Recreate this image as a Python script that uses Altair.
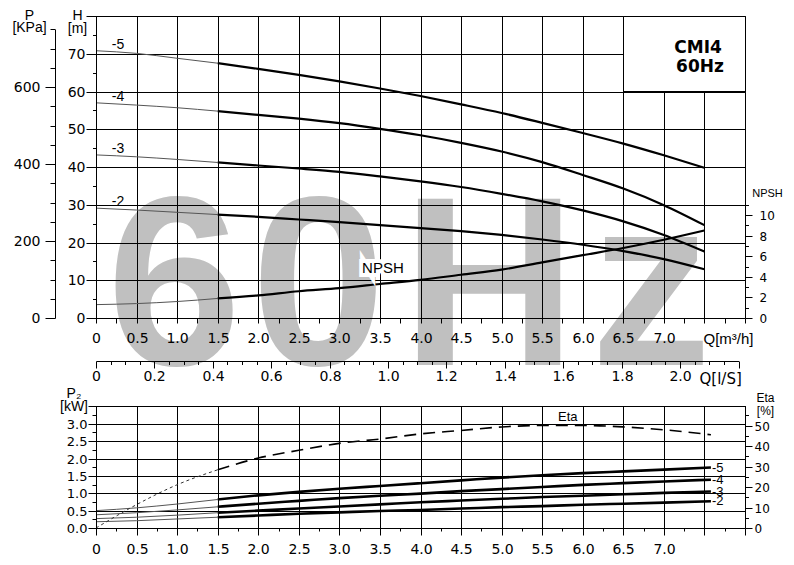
import altair as alt
import pandas as pd

# ---------------- data ----------------
STAGES = ["-5", "-4", "-3", "-2"]

# upper diagram: head H [m] and NPSH [m] against Q [m3/h]
Q_TOP = [0.0, 0.5, 1.0, 1.5, 2.0, 2.5, 3.0, 3.5, 4.0, 4.5, 5.0, 5.5, 6.0, 6.5, 7.0, 7.5]
H_5 = [70.8, 70.1, 68.8, 67.5, 66.0, 64.4, 62.7, 60.8, 58.8, 56.6, 54.3, 51.7, 49.0, 46.2, 43.1, 39.8]
H_4 = [57.0, 56.4, 55.7, 54.8, 53.8, 52.8, 51.6, 50.1, 48.4, 46.4, 44.1, 41.3, 37.9, 34.3, 29.9, 24.6]
H_3 = [43.2, 42.7, 42.0, 41.2, 40.4, 39.6, 38.7, 37.5, 36.2, 34.7, 32.9, 30.9, 28.5, 25.6, 22.0, 17.6]
H_2 = [29.1, 28.6, 28.0, 27.4, 26.8, 26.1, 25.4, 24.6, 23.8, 23.0, 22.0, 20.8, 19.4, 17.7, 15.6, 12.9]
NPSH = [1.3, 1.4, 1.6, 1.9, 2.2, 2.6, 2.9, 3.3, 3.7, 4.2, 4.7, 5.4, 6.1, 6.8, 7.6, 8.5]

# lower diagram: shaft power P2 [kW] and efficiency Eta [%]
Q_BOT = [0.0, 0.5, 1.0, 1.5, 2.0, 2.5, 3.0, 3.5, 4.0, 4.5, 5.0, 5.5, 6.0, 6.5, 7.0, 7.58]
P2_5 = [0.50, 0.58, 0.69, 0.82, 0.94, 1.04, 1.13, 1.21, 1.29, 1.37, 1.45, 1.52, 1.58, 1.63, 1.68, 1.74]
P2_4 = [0.38, 0.44, 0.52, 0.61, 0.70, 0.78, 0.86, 0.93, 0.99, 1.06, 1.12, 1.18, 1.24, 1.29, 1.34, 1.39]
P2_3 = [0.27, 0.31, 0.37, 0.44, 0.50, 0.56, 0.62, 0.68, 0.74, 0.79, 0.84, 0.89, 0.93, 0.97, 1.01, 1.05]
P2_2 = [0.18, 0.21, 0.26, 0.31, 0.36, 0.41, 0.45, 0.49, 0.52, 0.56, 0.60, 0.63, 0.67, 0.70, 0.73, 0.77]
ETA = [0.0, 11.4, 21.1, 28.4, 34.1, 37.9, 41.3, 43.4, 45.9, 47.6, 49.3, 50.0, 50.0, 49.3, 47.9, 45.5]
Q_BEP_START = 1.5  # curves drawn bold from here on

# tick values / labels
Q_MAJOR = [0.0, 0.5, 1.0, 1.5, 2.0, 2.5, 3.0, 3.5, 4.0, 4.5, 5.0, 5.5, 6.0, 6.5, 7.0, 7.5, 8.0]
Q_MINOR = [0.25, 0.75, 1.25, 1.75, 2.25, 2.75, 3.25, 3.75, 4.25, 4.75, 5.25, 5.75, 6.25, 6.75, 7.25, 7.75]
H_MAJOR = [0, 10, 20, 30, 40, 50, 60, 70, 80]
H_MINOR = [5, 15, 25, 35, 45, 55, 65, 75]
P_MAJOR = [0, 200, 400, 600]
P_MINOR = [50, 100, 150, 250, 300, 350, 450, 500, 550, 650, 700, 750]
NPSH_MAJOR = [0, 2, 4, 6, 8, 10]
NPSH_MINOR = [1, 3, 5, 7, 9, 11]
LS_MAJOR = [0.0, 0.2, 0.4, 0.6, 0.8, 1.0, 1.2, 1.4, 1.6, 1.8, 2.0, 2.2]
LS_MINOR = [0.05, 0.1, 0.15, 0.25, 0.3, 0.35, 0.45, 0.5, 0.55, 0.65, 0.7, 0.75, 0.85, 0.9, 0.95,
            1.05, 1.1, 1.15, 1.25, 1.3, 1.35, 1.45, 1.5, 1.55, 1.65, 1.7, 1.75, 1.85, 1.9, 1.95,
            2.05, 2.1, 2.15]
P2_MAJOR = [0.0, 0.5, 1.0, 1.5, 2.0, 2.5, 3.0, 3.5]
P2_MINOR = [0.25, 0.75, 1.25, 1.75, 2.25, 2.75, 3.25]
ETA_MAJOR = [0, 10, 20, 30, 40, 50]
ETA_MINOR = [5, 15, 25, 35, 45, 55]

MODEL = "CMI4"
FREQ = "60Hz"

# ---------------- layout (pixels inside the view) ----------------
W, HGT = 649, 512
TOP_Y0 = 302                      # y of H = 0
PX_M = TOP_Y0 / 80.0              # px per metre of head
KPA_PER_M = 9.80665
NPSH_PX = 30 * PX_M / 11          # NPSH 0..11 spans the height of H 0..30
LS_PX = 3.6 * W / 8.0             # px per l/s
BOT_Y0 = HGT                      # y of P2 = 0
P2_PX = 34.75                     # px per kW
ETA_PX = 2.05                     # px per %
LS_AXIS_Y = 345


def scales(rnd):
    sc = dict(nice=False, zero=False, round=rnd)
    return dict(
        x=alt.Scale(domain=[0, 8], range=[0, W], **sc),
        ls=alt.Scale(domain=[0, 2.2], range=[0, 2.2 * LS_PX], **sc),
        h=alt.Scale(domain=[0, 80], range=[TOP_Y0, 0], **sc),
        p=alt.Scale(domain=[0, 750], range=[TOP_Y0, TOP_Y0 - 750 * PX_M / KPA_PER_M], **sc),
        n=alt.Scale(domain=[0, 11], range=[TOP_Y0, TOP_Y0 - 11 * NPSH_PX], **sc),
        p2=alt.Scale(domain=[0, 3.5], range=[BOT_Y0, BOT_Y0 - 3.5 * P2_PX], **sc),
        e=alt.Scale(domain=[0, 58], range=[BOT_Y0, BOT_Y0 - 58 * ETA_PX], **sc),
    )

G = scales(True)    # grid, box, axes: crisp pixel positions
S = scales(False)   # curves and labels: smooth

# ---------------- tables ----------------
def long_table(qs, series, col):
    rows = []
    for name, vals in series.items():
        for q, v in zip(qs, vals):
            rows.append({"curve": name, "q": q, col: v})
    return pd.DataFrame(rows)

top_df = long_table(Q_TOP, dict(zip(STAGES, [H_5, H_4, H_3, H_2])), "h")
npsh_df = long_table(Q_TOP, {"NPSH": NPSH}, "n")
p2_df = long_table(Q_BOT, dict(zip(STAGES, [P2_5, P2_4, P2_3, P2_2])), "p")
eta_df = long_table(Q_BOT, {"Eta": ETA}, "e")

FONT = "Liberation Sans"
NUMFONT = "DejaVu Sans"

# ---------------- helpers ----------------
def X(field="q", scale=S["x"]):
    return alt.X(f"{field}:Q", scale=scale, axis=None)

def Y(field, scale):
    return alt.Y(f"{field}:Q", scale=scale, axis=None)

def curve_layers(df, col, yscale, thin_kw, thick_kw):
    thin = alt.Chart(df[df.q <= Q_BEP_START]).mark_line(interpolate="monotone", **thin_kw).encode(
        x=X(), y=Y(col, yscale), detail="curve:N")
    thick = alt.Chart(df[df.q >= Q_BEP_START]).mark_line(interpolate="monotone", **thick_kw).encode(
        x=X(), y=Y(col, yscale), detail="curve:N")
    return [thin, thick]

BASE = dict(grid=False, zindex=1, domainColor="black", tickColor="black", labelColor="black",
            titleColor="black", domainWidth=1, tickWidth=1, labelOverlap=False, labelFlush=False,
            labelFont=NUMFONT, titleFont=FONT, titleFontWeight="normal")

def axis_layer(channel, scale, start, **kw):
    ax = alt.Axis(**{**BASE, **kw})
    df = pd.DataFrame({"v": [start]})
    if channel == "x":
        enc = {"x": alt.X("v:Q", scale=scale, axis=ax)}
    else:
        enc = {"y": alt.Y("v:Q", scale=scale, axis=ax)}
    return alt.Chart(df).mark_point(opacity=0, size=1).encode(**enc)

def minor(channel, scale, values, size, **kw):
    return axis_layer(channel, scale, 0, values=values, tickSize=size, labels=False,
                      domain=False, title=None, **kw)

layers = []

# watermark
for ch, xc in zip(FREQ, [78, 222.5, 393, 555]):
    layers.append(
        alt.Chart(pd.DataFrame({"t": [ch]})).mark_text(
            font=FONT, fontWeight="bold", fontSize=242, color="#c0c0c0",
            align="center", baseline="alphabetic").encode(
            x=alt.value(xc), y=alt.value(349), text="t:N"))

# grids
vg_top = pd.DataFrame({"q": Q_MAJOR, "lo": 0.0, "hi": 80.0})
hg_top = pd.DataFrame({"h": H_MAJOR, "lo": 0.0, "hi": 8.0})
vg_bot = pd.DataFrame({"q": Q_MAJOR, "lo": 0.0, "hi": 3.5})
hg_bot = pd.DataFrame({"p": P2_MAJOR, "lo": 0.0, "hi": 8.0})
rule_kw = dict(color="black", strokeWidth=1)
GX = lambda f="q": X(f, G["x"])
layers += [
    alt.Chart(vg_top).mark_rule(xOffset=0.5, **rule_kw).encode(x=GX(), y=Y("lo", G["h"]), y2="hi:Q"),
    alt.Chart(hg_top).mark_rule(yOffset=0.5, **rule_kw).encode(y=Y("h", G["h"]), x=GX("lo"), x2="hi:Q"),
    alt.Chart(vg_bot).mark_rule(xOffset=0.5, **rule_kw).encode(x=GX(), y=Y("lo", G["p2"]), y2="hi:Q"),
    alt.Chart(hg_bot).mark_rule(yOffset=0.5, **rule_kw).encode(y=Y("p", G["p2"]), x=GX("lo"), x2="hi:Q"),
]

# model box
BOX = pd.DataFrame({"q0": [6.5], "q1": [8.0], "h0": [60.0], "h1": [80.0], "qc": [7.25], "hc": [70.0]})
layers += [
    alt.Chart(BOX).mark_rect(fill="white", stroke="black", strokeWidth=1, xOffset=0.5, yOffset=0.5,
                             x2Offset=0.5, y2Offset=0.5).encode(
        x=GX("q0"), x2="q1:Q", y=Y("h0", G["h"]), y2="h1:Q"),
    alt.Chart(BOX).mark_rule(color="black", strokeWidth=2).encode(
        x=GX("q0"), x2="q1:Q", y=Y("h0", G["h"])),
    alt.Chart(BOX).mark_text(text=MODEL, font=NUMFONT, fontWeight="bold", fontSize=17,
                             baseline="middle", dx=14, dy=-6.5).encode(x=GX("qc"), y=Y("hc", G["h"])),
    alt.Chart(BOX).mark_text(text=FREQ, font=NUMFONT, fontWeight="bold", fontSize=17,
                             baseline="middle", dx=16, dy=12.5).encode(x=GX("qc"), y=Y("hc", G["h"])),
]

thin_kw = dict(color="#555555", strokeWidth=1)
thick_kw = dict(color="black", strokeWidth=2.2)

# H curves, NPSH
layers += curve_layers(top_df, "h", S["h"], thin_kw, thick_kw)
layers += curve_layers(npsh_df, "n", S["n"], thin_kw, thick_kw)

# P2 curves, Eta
layers += curve_layers(p2_df, "p", S["p2"], thin_kw, dict(color="black", strokeWidth=2.6))
layers += curve_layers(eta_df, "e", S["e"],
                       dict(color="#333333", strokeWidth=1, strokeDash=[3, 3]),
                       dict(color="black", strokeWidth=1.6, strokeDash=[12, 7]))

# curve labels
start_df = top_df[top_df.q == Q_TOP[0]]
layers.append(alt.Chart(start_df).mark_text(font=FONT, fontSize=14, align="center", baseline="middle",
                                            dx=22, dy=-6).encode(x=X(), y=Y("h", S["h"]), text="curve:N"))
end_df = p2_df[p2_df.q == Q_BOT[-1]]
layers.append(alt.Chart(end_df).mark_text(font=FONT, fontSize=13, align="left", baseline="middle",
                                          dx=1).encode(x=X(), y=Y("p", S["p2"]), text="curve:N"))
npsh_lab = npsh_df[npsh_df.q == 3.5]
for kw in (dict(color="white", stroke="white", strokeWidth=8, strokeJoin="miter"), dict(color="black")):
    layers.append(alt.Chart(npsh_lab).mark_text(font=FONT, fontSize=15, align="center",
                                                baseline="alphabetic", dx=3, dy=-11, **kw).encode(
        x=X(), y=Y("n", S["n"]), text="curve:N"))
eta_lab = eta_df[eta_df.q == 6.0]
layers.append(alt.Chart(eta_lab).mark_text(font=FONT, fontSize=13, align="center", baseline="middle",
                                           dx=-15, dy=-9).encode(x=X(), y=Y("e", S["e"]), text="curve:N"))

# ---------------- axes ----------------
Q_LABEL = ("datum.value == 0 ? '0' : (datum.value <= 7.01 && abs(datum.value * 2 - round(datum.value * 2)) < 0.001"
           " ? format(datum.value, '.1f') : '')")
layers += [
    # H [m]
    axis_layer("y", G["h"], 0, orient="left", values=H_MAJOR, tickSize=10, labelPadding=1, labelFontSize=14,
               labelExpr="datum.value <= 70 ? datum.label : ''", title=["H", "[m]"], titleX=-19, titleY=3.5,
               titleAngle=0, titleAlign="center", titleBaseline="alphabetic", titleFontSize=14,
               titleLineHeight=12.5),
    minor("y", G["h"], H_MINOR, 3.5, orient="left"),
    # P [kPa]
    axis_layer("y", G["p"], 0, orient="left", offset=41, values=P_MAJOR, tickSize=10, labelPadding=5,
               labelFontSize=14, title=["P", "[KPa]"], titleX=-26, titleY=3.5, titleAngle=0,
               titleAlign="center", titleBaseline="alphabetic", titleFontSize=14, titleLineHeight=11.5),
    minor("y", G["p"], P_MINOR, 5, orient="left", offset=41),
    # NPSH
    axis_layer("y", G["n"], 0, orient="right", values=NPSH_MAJOR, tickSize=7, labelPadding=7,
               labelFontSize=12, title="NPSH", titleX=6.7, titleY=180.7, titleAngle=0, titleAlign="left",
               titleBaseline="alphabetic", titleFontSize=11),
    minor("y", G["n"], NPSH_MINOR, 3.5, orient="right"),
    # Q [m3/h] upper
    axis_layer("x", G["x"], 0, orient="bottom", offset=-(HGT - TOP_Y0), values=sorted(Q_MAJOR + Q_MINOR),
               tickSize=5, labelPadding=8, labelFontSize=14, labelExpr=Q_LABEL, title="Q[m³/h]",
               titleX=607, titleY=25.3, titleAlign="left", titleBaseline="alphabetic", titleFontSize=15),
    # Q [l/s]
    axis_layer("x", G["ls"], 0, orient="bottom", offset=-(HGT - LS_AXIS_Y), values=LS_MAJOR, tickSize=7,
               labelPadding=1, labelFontSize=14,
               labelExpr="datum.value == 0 ? '0' : (datum.value <= 2.01 ? format(datum.value, '.1f') : '')",
               title="Q[l/S]", titleX=603, titleY=22, titleAlign="left", titleBaseline="alphabetic",
               titleFont=NUMFONT, titleFontSize=15),
    minor("x", G["ls"], LS_MINOR, 3.5, orient="bottom", offset=-(HGT - LS_AXIS_Y)),
    # Q lower
    axis_layer("x", G["x"], 0, orient="bottom", values=Q_MAJOR, tickSize=7, labelPadding=7, labelFontSize=14,
               labelExpr=Q_LABEL, title=None),
    minor("x", G["x"], Q_MINOR, 3, orient="bottom"),
    # P2 [kW]
    axis_layer("y", G["p2"], 0, orient="left", values=P2_MAJOR, tickSize=8, labelPadding=1, labelFontSize=13,
               labelExpr="datum.value <= 3.01 ? format(datum.value, '.1f') : ''", title=["P₂", "[kW]"],
               titleX=-22.5, titleY=381.3, titleAngle=0, titleAlign="center", titleBaseline="alphabetic",
               titleFontSize=14, titleLineHeight=13.5),
    minor("y", G["p2"], P2_MINOR, 4, orient="left"),
    # Eta [%]
    axis_layer("y", G["e"], 0, orient="right", values=ETA_MAJOR, tickSize=7, labelPadding=2, labelFontSize=12,
               title=["Eta", "[%]"], titleX=20, titleY=385.7, titleAngle=0, titleAlign="center",
               titleBaseline="alphabetic", titleFontSize=12, titleLineHeight=12.5),
    minor("y", G["e"], ETA_MINOR, 3.5, orient="right"),
]

chart = alt.layer(*layers).resolve_scale(x="independent", y="independent").properties(
    width=W, height=HGT,
    autosize=alt.AutoSizeParams(type="none"),
    padding={"left": 88, "top": 8, "right": 40, "bottom": 28},
    background="white",
).configure_view(strokeWidth=0)

chart.save("out.html", embed_options={"renderer": "svg", "actions": False})
